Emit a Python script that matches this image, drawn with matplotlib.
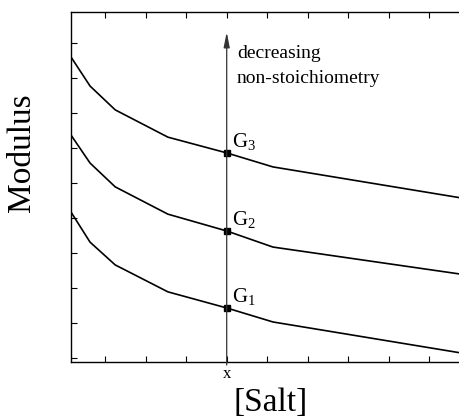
import matplotlib
matplotlib.use("Agg")
import matplotlib.pyplot as plt

# salt concentration (arbitrary units) at the kinks of each curve
salt = [0.16, 0.63, 1.25, 2.55, 4.0, 5.14, 9.75]

# modulus curves for three levels of non-stoichiometry
modulus_g3 = [8.60, 7.77, 7.09, 6.31, 5.86, 5.46, 4.58]
modulus_g2 = [6.37, 5.57, 4.89, 4.11, 3.63, 3.17, 2.40]
modulus_g1 = [4.17, 3.31, 2.66, 1.89, 1.43, 1.03, 0.15]

# reference salt concentration and the moduli there
x_ref = 4.0
g_values = [1.43, 3.63, 5.86]
g_labels = ["G$_1$", "G$_2$", "G$_3$"]

x_ticks = [1, 2, 3, 4, 5, 6, 7, 8, 9]
x_tick_labels = ["", "", "", "x", "", "", "", "", ""]
y_ticks = [0, 1, 2, 3, 4, 5, 6, 7, 8, 9]

plt.rcParams['font.family'] = ['Liberation Serif', 'DejaVu Serif']
plt.rcParams['mathtext.fontset'] = 'custom'
plt.rcParams['mathtext.rm'] = 'Liberation Serif'
plt.rcParams['mathtext.it'] = 'Liberation Serif'

fig = plt.figure(figsize=(4.59, 4.19), dpi=100)
ax = fig.add_axes([71 / 459, 57 / 419, 399 / 459, 350 / 419])

for curve in (modulus_g1, modulus_g2, modulus_g3):
    ax.plot(salt, curve, color='black', lw=1.2, solid_joinstyle='miter')

ax.plot([x_ref] * 3, g_values, 's', color='black', ms=4)

# arrow marking the reference concentration
ax.annotate("", xy=(x_ref, 9.31), xytext=(x_ref, -0.2),
            arrowprops=dict(arrowstyle='-|>,head_length=0.9,head_width=0.18',
                            color='#333333', lw=0.9, shrinkA=0, shrinkB=0))

for g, lab in zip(g_values, g_labels):
    ax.text(x_ref + 0.13, g + 0.17, lab, fontsize=15, va='baseline', ha='left')

ax.text(x_ref + 0.25, 8.57, "decreasing", fontsize=14,
        va='baseline', ha='left')
ax.text(x_ref + 0.25, 7.86, "non-stoichiometry", fontsize=14,
        va='baseline', ha='left')

ax.set_xlim(0.16, 10.0)
ax.set_ylim(-0.114, 9.886)
ax.set_xticks(x_ticks)
ax.set_xticklabels(x_tick_labels, fontsize=12)
ax.set_yticks(y_ticks)
ax.set_yticklabels([])
ax.tick_params(direction='in', length=4, width=0.8, top=True, pad=3)
ax.spines['right'].set_visible(False)
for s in ('left', 'bottom', 'top'):
    ax.spines[s].set_linewidth(1.0)

ax.set_xlabel("[Salt]", fontsize=24, labelpad=4)
ax.set_ylabel("Modulus", fontsize=24)
ax.yaxis.set_label_coords(-0.085, 0.597)

fig.savefig("out.png", dpi=100)
